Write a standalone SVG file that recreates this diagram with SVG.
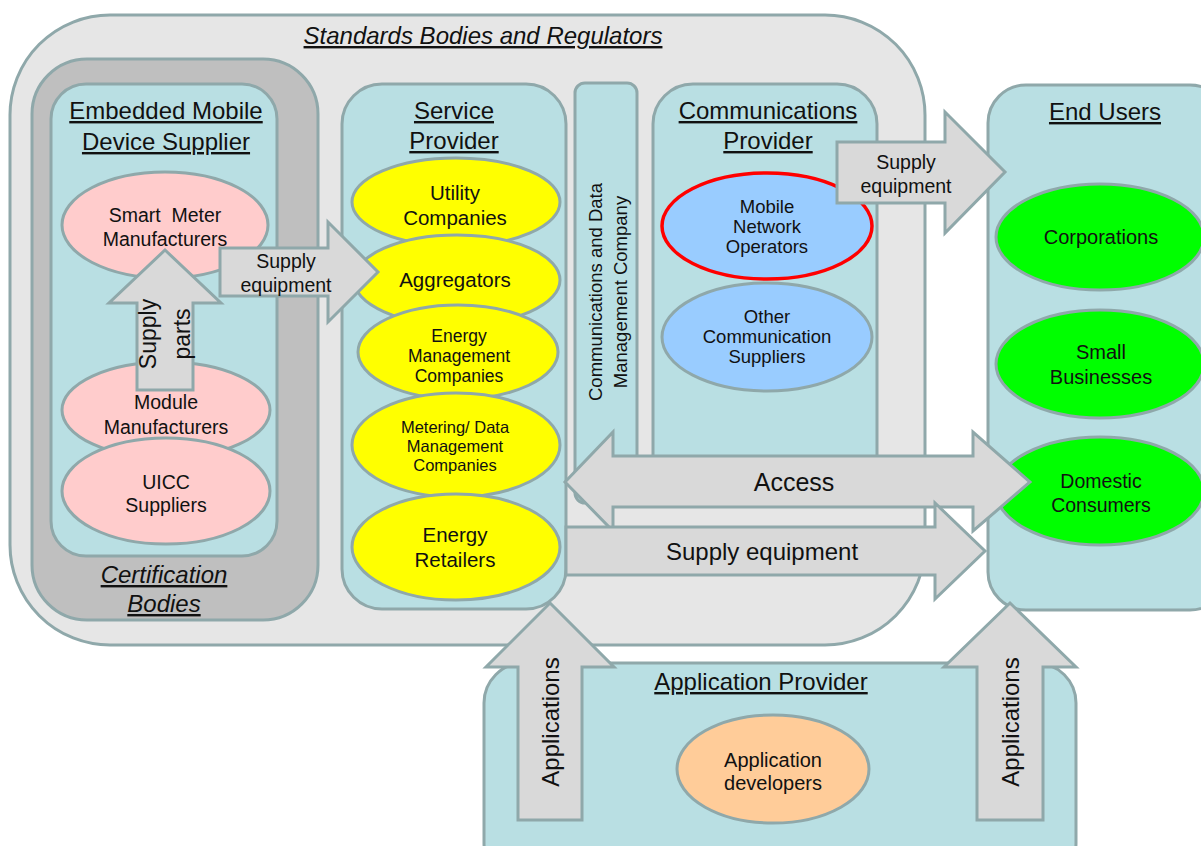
<svg xmlns="http://www.w3.org/2000/svg" width="1201" height="846" viewBox="0 0 1201 846">
  <style>
    text { font-family: "Liberation Sans", Arial, sans-serif; fill: #111; text-anchor: middle; }
    .box { stroke: #8fa8aa; stroke-width: 3; }
    .outer { fill: #e6e6e6; }
    .cert { fill: #bfbfbf; }
    .teal { fill: #b9dfe3; }
    .ell { stroke: #8fa8aa; stroke-width: 3; }
    .pink { fill: #ffcccc; }
    .yellow { fill: #ffff00; }
    .blue { fill: #99ccff; }
    .green { fill: #00ff00; }
    .orange { fill: #ffcc99; }
    .arrow { fill: #d9d9d9; stroke: #8fa8aa; stroke-width: 3; stroke-linejoin: miter; }
    .title { font-size: 24px; text-decoration: underline; }
    .ital { font-style: italic; }
  </style>

  <!-- Standards Bodies and Regulators -->
  <g id="standards">
    <rect class="box outer" x="10" y="15" width="915" height="630" rx="100" ry="100"/>
    <text class="title ital" x="483" y="44">Standards Bodies and Regulators</text>
  </g>

  <!-- Certification Bodies -->
  <g id="certification">
    <rect class="box cert" x="32" y="59" width="286" height="561" rx="55" ry="55"/>
    <text class="title ital" x="164" y="583">Certification</text>
    <text class="title ital" x="164" y="612">Bodies</text>
  </g>

  <!-- Embedded Mobile Device Supplier -->
  <g id="embedded">
    <rect class="box teal" x="51" y="84" width="226" height="472" rx="35" ry="35"/>
    <text class="title" x="166" y="119">Embedded Mobile</text>
    <text class="title" x="166" y="150">Device Supplier</text>
  </g>
  <g id="smart-meter">
    <ellipse class="ell pink" cx="165" cy="225" rx="103" ry="53"/>
    <text font-size="19.5" x="165" y="222" xml:space="preserve">Smart  Meter</text>
    <text font-size="19.5" x="165" y="246">Manufacturers</text>
  </g>
  <g id="module">
    <ellipse class="ell pink" cx="166" cy="410" rx="104" ry="48"/>
    <text font-size="19.5" x="166" y="409">Module</text>
    <text font-size="19.5" x="166" y="434">Manufacturers</text>
  </g>
  <g id="uicc">
    <ellipse class="ell pink" cx="166" cy="491" rx="104" ry="53"/>
    <text font-size="19.5" x="166" y="489">UICC</text>
    <text font-size="19.5" x="166" y="512">Suppliers</text>
  </g>

  <!-- Service Provider -->
  <g id="service-provider">
    <rect class="box teal" x="342" y="84" width="224" height="525" rx="40" ry="40"/>
    <text class="title" x="454" y="119">Service</text>
    <text class="title" x="454" y="149">Provider</text>
  </g>
  <g id="utility">
    <ellipse class="ell yellow" cx="456" cy="202" rx="104" ry="44"/>
    <text font-size="20.5" x="455" y="200">Utility</text>
    <text font-size="20.5" x="455" y="225">Companies</text>
  </g>
  <g id="aggregators">
    <ellipse class="ell yellow" cx="457" cy="280" rx="103" ry="45"/>
    <text font-size="20.5" x="455" y="287">Aggregators</text>
  </g>
  <g id="energy-management">
    <ellipse class="ell yellow" cx="458" cy="352" rx="100" ry="47"/>
    <text font-size="17.5" x="459" y="342">Energy</text>
    <text font-size="17.5" x="459" y="362">Management</text>
    <text font-size="17.5" x="459" y="382">Companies</text>
  </g>
  <g id="metering">
    <ellipse class="ell yellow" cx="456" cy="445" rx="104" ry="52"/>
    <text font-size="16.5" x="455" y="433">Metering/ Data</text>
    <text font-size="16.5" x="455" y="452">Management</text>
    <text font-size="16.5" x="455" y="471">Companies</text>
  </g>
  <g id="energy-retailers">
    <ellipse class="ell yellow" cx="456" cy="547" rx="104" ry="53"/>
    <text font-size="20.5" x="455" y="542">Energy</text>
    <text font-size="20.5" x="455" y="567">Retailers</text>
  </g>

  <!-- Communications and Data Management Company -->
  <g id="dcc">
    <rect class="box teal" x="575" y="83" width="62" height="420" rx="10" ry="10"/>
    <g transform="translate(607,292) rotate(-90)">
      <text font-size="18.5" x="0" y="-5.5">Communications and Data</text>
      <text font-size="18.5" x="0" y="19.5">Management Company</text>
    </g>
  </g>

  <!-- Communications Provider -->
  <g id="comms-provider">
    <rect class="box teal" x="653" y="84" width="224" height="420" rx="40" ry="40"/>
    <text class="title" x="768" y="119">Communications</text>
    <text class="title" x="768" y="149">Provider</text>
  </g>
  <g id="mno">
    <ellipse cx="767" cy="226" rx="105" ry="53" class="blue" stroke="#ff0000" stroke-width="3.5"/>
    <text font-size="18.5" x="767" y="213">Mobile</text>
    <text font-size="18.5" x="767" y="233">Network</text>
    <text font-size="18.5" x="767" y="253">Operators</text>
  </g>
  <g id="other-comms">
    <ellipse class="ell blue" cx="767" cy="337" rx="105" ry="54"/>
    <text font-size="18.5" x="767" y="323">Other</text>
    <text font-size="18.5" x="767" y="343">Communication</text>
    <text font-size="18.5" x="767" y="363">Suppliers</text>
  </g>

  <!-- End Users -->
  <g id="end-users">
    <rect class="box teal" x="988" y="85" width="240" height="525" rx="38" ry="38"/>
    <text class="title" x="1105" y="120">End Users</text>
  </g>
  <g id="corporations">
    <ellipse class="ell green" cx="1100" cy="237" rx="104" ry="53"/>
    <text font-size="20" x="1101" y="244">Corporations</text>
  </g>
  <g id="small-businesses">
    <ellipse class="ell green" cx="1100" cy="364" rx="104" ry="54"/>
    <text font-size="20" x="1101" y="359">Small</text>
    <text font-size="20" x="1101" y="384">Businesses</text>
  </g>
  <g id="domestic">
    <ellipse class="ell green" cx="1100" cy="491" rx="104" ry="54"/>
    <text font-size="19.5" x="1101" y="488">Domestic</text>
    <text font-size="19.5" x="1101" y="512">Consumers</text>
  </g>

  <!-- Application Provider -->
  <g id="app-provider">
    <rect class="box teal" x="484" y="663" width="592" height="220" rx="40" ry="40"/>
    <text class="title" x="761" y="690">Application Provider</text>
  </g>
  <g id="app-developers">
    <ellipse class="ell orange" cx="773" cy="769" rx="96" ry="54"/>
    <text font-size="20" x="773" y="767">Application</text>
    <text font-size="20" x="773" y="790">developers</text>
  </g>

  <!-- Block arrows between the parties -->
  <g id="connectors">
    <g id="supply-parts">
      <polygon class="arrow" points="165,250 221,303 193,303 193,390 137,390 137,303 109,303"/>
      <g transform="translate(165,334) rotate(-90)">
        <text font-size="23" x="0" y="-9">Supply</text>
        <text font-size="23" x="0" y="25">parts</text>
      </g>
    </g>
    <g id="supply-to-service">
      <polygon class="arrow" points="220,248 328,248 328,222 378,272 328,322 328,296 220,296"/>
      <text font-size="19.5" x="286" y="268">Supply</text>
      <text font-size="19.5" x="286" y="292">equipment</text>
    </g>
    <g id="supply-to-users">
      <polygon class="arrow" points="837,142 945,142 945,112 1005,172 945,233 945,203 837,203"/>
      <text font-size="19.5" x="906" y="169">Supply</text>
      <text font-size="19.5" x="906" y="193">equipment</text>
    </g>
    <g id="access">
      <polygon class="arrow" points="565,482 613,432 613,456 973,456 973,432 1030,482 973,531 973,507 613,507 613,531"/>
      <text font-size="25" x="794" y="491">Access</text>
    </g>
    <g id="supply-equipment">
      <polygon class="arrow" points="566,527 935,527 935,503 985,551 935,599 935,575 566,575"/>
      <text font-size="24" x="762" y="560">Supply equipment</text>
    </g>
    <g id="apps-to-service">
      <polygon class="arrow" points="550,603 614,667 582,667 582,820 518,820 518,667 486,667"/>
      <g transform="translate(550,722) rotate(-90)">
        <text font-size="24" x="0" y="8.5">Applications</text>
      </g>
    </g>
    <g id="apps-to-users">
      <polygon class="arrow" points="1010,603 1076,667 1043,667 1043,820 977,820 977,667 944,667"/>
      <g transform="translate(1010,722) rotate(-90)">
        <text font-size="24" x="0" y="8.5">Applications</text>
      </g>
    </g>
  </g>
</svg>
